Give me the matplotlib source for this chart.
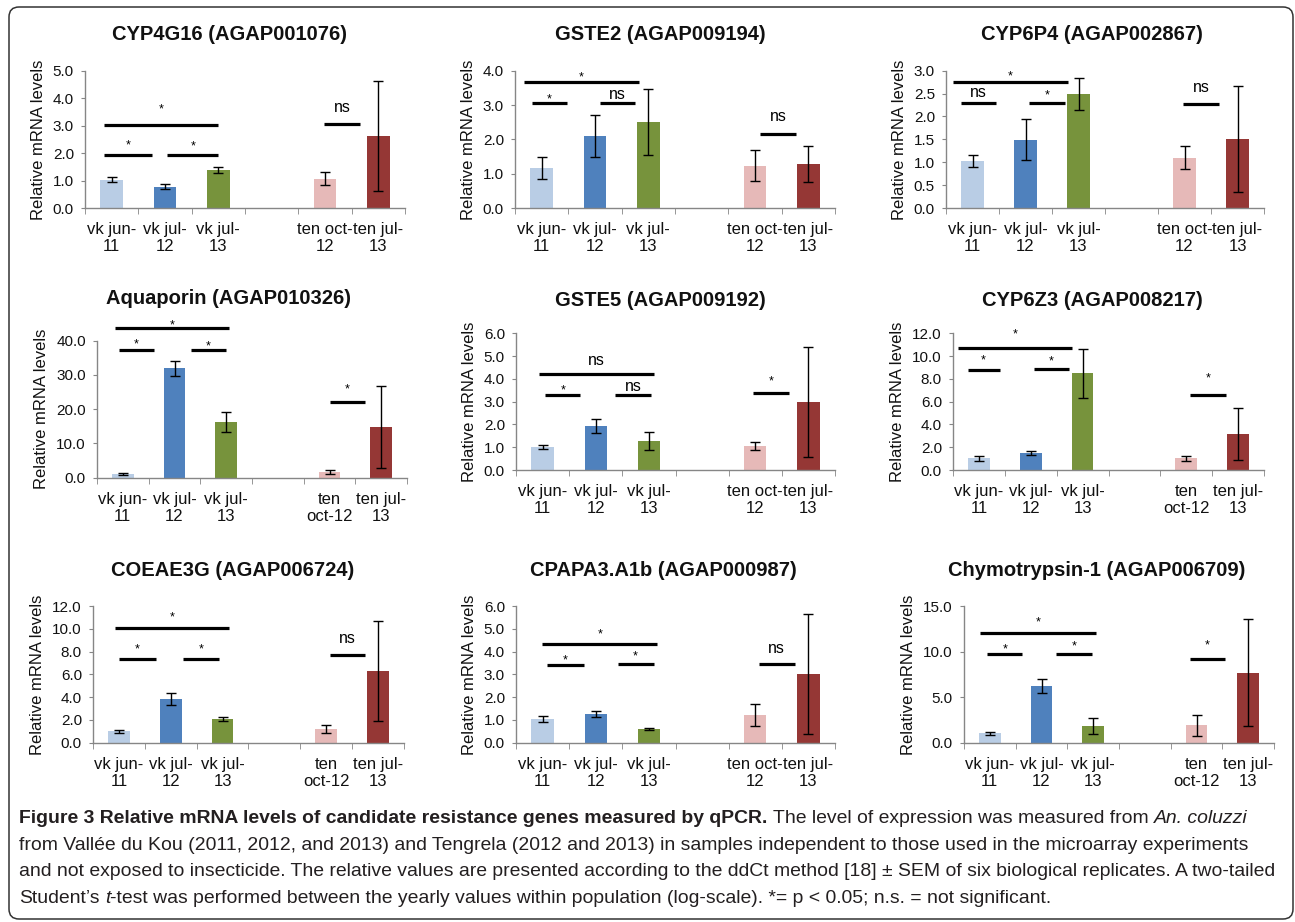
"""
Figure 3: relative mRNA levels of candidate resistance genes (qPCR)
3x3 grid of Excel-style bar charts + caption
"""
import matplotlib
matplotlib.use("Agg")
import matplotlib.pyplot as plt
import matplotlib.ticker as mticker
from matplotlib.patches import FancyBboxPatch
from matplotlib.transforms import IdentityTransform
import numpy as np

plt.rcParams["font.family"] = ["Liberation Sans", "DejaVu Sans"]

# ---- data -------------------------------------------------------------
BAR_X = [0, 1, 2, 4, 5]          # slot 3 is the empty gap
LABELS_A = ["vk jun-\n11", "vk jul-\n12", "vk jul-\n13", "", "ten oct-\n12", "ten jul-\n13"]
LABELS_B = ["vk jun-\n11", "vk jul-\n12", "vk jul-\n13", "", "ten\noct-12", "ten jul-\n13"]

titles = [
    "CYP4G16 (AGAP001076)", "GSTE2 (AGAP009194)", "CYP6P4 (AGAP002867)",
    "Aquaporin (AGAP010326)", "GSTE5 (AGAP009192)", "CYP6Z3 (AGAP008217)",
    "COEAE3G (AGAP006724)", "CPAPA3.A1b (AGAP000987)", "Chymotrypsin-1 (AGAP006709)",
]

cyp4g16 = [1.03, 0.77, 1.39, 1.07, 2.63]
cyp4g16_err = [0.10, 0.09, 0.11, 0.24, 2.00]
gste2 = [1.17, 2.10, 2.51, 1.23, 1.29]
gste2_err = [0.33, 0.60, 0.97, 0.45, 0.53]
cyp6p4 = [1.03, 1.49, 2.49, 1.10, 1.51]
cyp6p4_err = [0.13, 0.45, 0.35, 0.25, 1.15]
aquaporin = [1.07, 32.0, 16.25, 1.65, 14.8]
aquaporin_err = [0.2, 2.2, 2.9, 0.65, 12.0]
gste5 = [1.01, 1.93, 1.27, 1.05, 2.99]
gste5_err = [0.10, 0.30, 0.41, 0.17, 2.40]
cyp6z3 = [1.02, 1.49, 8.50, 1.02, 3.16]
cyp6z3_err = [0.23, 0.20, 2.15, 0.22, 2.25]
coeae3g = [1.00, 3.83, 2.08, 1.20, 6.29]
coeae3g_err = [0.13, 0.53, 0.20, 0.35, 4.40]
cpapa3 = [1.04, 1.26, 0.60, 1.21, 3.01]
cpapa3_err = [0.12, 0.12, 0.06, 0.48, 2.63]
chymo = [1.02, 6.22, 1.83, 1.94, 7.68]
chymo_err = [0.15, 0.80, 0.90, 1.15, 5.90]

y_max = [5, 4, 3, 40, 6, 12, 12, 6, 15]
y_step = [1, 1, 0.5, 10, 1, 2, 2, 1, 5]

# significance bars: (x start, x end, bar y, label y, label)
sig_cyp4g16 = [(-0.15, 2.0, 3.03, 3.75, "*"), (-0.15, 0.76, 1.94, 2.42, "*"),
               (1.04, 2.0, 1.92, 2.38, "*"), (3.99, 4.66, 3.05, 3.63, "ns")]
sig_gste2 = [(-0.34, 1.82, 3.68, 3.92, "*"), (-0.18, 0.48, 3.07, 3.29, "*"),
             (1.09, 1.75, 3.07, 3.29, "ns"), (4.1, 4.76, 2.16, 2.66, "ns")]
sig_cyp6p4 = [(-0.36, 1.8, 2.76, 2.96, "*"), (-0.22, 0.45, 2.30, 2.51, "ns"),
              (1.07, 1.74, 2.30, 2.56, "*"), (3.97, 4.65, 2.27, 2.63, "ns")]
sig_aquaporin = [(-0.16, 2.06, 43.6, 45.8, "*"), (-0.08, 0.61, 37.3, 40.0, "*"),
                 (1.31, 2.0, 37.3, 39.7, "*"), (4.0, 4.68, 22.0, 26.9, "*")]
sig_gste5 = [(-0.06, 2.1, 4.23, 4.80, "ns"), (0.05, 0.71, 3.28, 3.66, "*"),
             (1.36, 2.04, 3.31, 3.66, "ns"), (3.96, 4.64, 3.37, 4.07, "*")]
sig_cyp6z3 = [(-0.4, 1.8, 10.68, 12.23, "*"), (-0.22, 0.4, 8.75, 9.95, "*"),
              (1.06, 1.73, 8.84, 9.86, "*"), (4.08, 4.76, 6.59, 8.40, "*")]
sig_coeae3g = [(-0.08, 2.13, 10.1, 11.36, "*"), (0.01, 0.71, 7.32, 8.57, "*"),
               (1.23, 1.93, 7.32, 8.57, "*"), (4.07, 4.75, 7.7, 9.10, "ns")]
sig_cpapa3 = [(-0.01, 2.16, 4.35, 4.95, "*"), (0.08, 0.77, 3.41, 3.78, "*"),
              (1.41, 2.09, 3.44, 3.97, "*"), (4.07, 4.74, 3.44, 4.11, "ns")]
sig_chymo = [(-0.19, 2.05, 12.0, 13.65, "*"), (-0.05, 0.63, 9.73, 10.72, "*"),
             (1.28, 1.97, 9.73, 11.01, "*"), (3.87, 4.55, 9.18, 11.09, "*")]

means = [cyp4g16, gste2, cyp6p4, aquaporin, gste5, cyp6z3, coeae3g, cpapa3, chymo]
errors = [cyp4g16_err, gste2_err, cyp6p4_err, aquaporin_err, gste5_err, cyp6z3_err,
          coeae3g_err, cpapa3_err, chymo_err]
sigs = [sig_cyp4g16, sig_gste2, sig_cyp6p4, sig_aquaporin, sig_gste5, sig_cyp6z3,
        sig_coeae3g, sig_cpapa3, sig_chymo]
xlabels = [LABELS_A, LABELS_A, LABELS_A, LABELS_B, LABELS_A, LABELS_B, LABELS_B, LABELS_A, LABELS_B]

CAPTION_LINES = [
    [("Figure 3 Relative mRNA levels of candidate resistance genes measured by qPCR.", "bold", "normal"),
     (" The level of expression was measured from", "normal", "normal"),
     (" An. coluzzi", "normal", "italic")],
    [("from Vallée du Kou (2011, 2012, and 2013) and Tengrela (2012 and 2013) in samples independent "
      "to those used in the microarray experiments", "normal", "normal")],
    [("and not exposed to insecticide. The relative values are presented according to the ddCt method "
      "[18] ± SEM of six biological replicates. A two-tailed", "normal", "normal")],
    [("Student\u2019s", "normal", "normal"), (" t", "normal", "italic"),
     ("-test was performed between the yearly values within population (log-scale). *= p < 0.05; "
      "n.s. = not significant.", "normal", "normal")],
]

# ---- style / layout ---------------------------------------------------
BAR_COLORS = ["#b9cde5", "#4f81bd", "#77933c", "#e6b9b8", "#953735"]
AXIS_GRAY = "#868686"
W, H = 1295, 922

# axes boxes in pixels: left, top, right, bottom
AX_BOXES = [
    (85, 70.7, 405, 208), (515, 70.7, 835, 208), (946, 70.7, 1264, 208),
    (97, 340.7, 407, 477.7), (516, 333.3, 835, 470), (953, 333.3, 1264, 470),
    (93, 606, 404, 742.7), (516, 606, 835, 742.7), (964, 606, 1274, 742.7),
]
TITLE_POS = [
    (230, 35), (660, 35), (1092, 35),
    (229, 298), (660, 300), (1092, 300),
    (233, 571), (663, 571), (1097, 571),
]

fig = plt.figure(figsize=(W / 100, H / 100), dpi=100, facecolor="white")


def draw_panel(ax, vals, errs, ymax, ystep, sig, labels):
    ax.bar(BAR_X, vals, width=0.42, color=BAR_COLORS, linewidth=0, zorder=2)
    ax.errorbar(BAR_X, vals, yerr=errs, fmt="none", ecolor="black", elinewidth=1.0,
                capsize=3.5, capthick=1.0, zorder=3, clip_on=False)

    ax.set_xlim(-0.5, 5.5)
    ax.set_ylim(0, ymax)
    ax.set_yticks(np.arange(0, ymax + ystep / 2, ystep))
    ax.yaxis.set_major_formatter(mticker.FormatStrFormatter("%.1f"))
    ax.set_xticks(range(6))
    ax.set_xticklabels(labels, fontsize=12, linespacing=1.18)
    ax.set_xticks(np.arange(-0.5, 6, 1), minor=True)
    ax.tick_params(axis="x", which="major", length=0, pad=10, colors="#111111")
    ax.tick_params(axis="x", which="minor", length=4, color=AXIS_GRAY, direction="out")
    ax.tick_params(axis="y", length=3, color=AXIS_GRAY, pad=5, labelsize=11, labelcolor="#111111")
    ax.set_ylabel("Relative mRNA levels", fontsize=12, labelpad=5, color="#111111")

    for side in ("top", "right"):
        ax.spines[side].set_visible(False)
    for side in ("left", "bottom"):
        ax.spines[side].set_color(AXIS_GRAY)
        ax.spines[side].set_linewidth(1.0)

    # significance bars; label y is the visual centre of the glyphs
    for x0, x1, y, ylab, lab in sig:
        ax.plot([x0, x1], [y, y], color="black", linewidth=2.3,
                solid_capstyle="butt", clip_on=False, zorder=4)
        star = lab == "*"
        ax.annotate(lab, xy=((x0 + x1) / 2, ylab), xytext=(0, -5.2 if star else -3),
                    textcoords="offset points", ha="center", va="baseline",
                    fontsize=9 if star else 11.5, annotation_clip=False)


for i in range(9):
    l, t, r, b = AX_BOXES[i]
    ax = fig.add_axes([l / W, 1 - b / H, (r - l) / W, (b - t) / H])
    draw_panel(ax, means[i], errors[i], y_max[i], y_step[i], sigs[i], xlabels[i])
    tx, ty = TITLE_POS[i]
    fig.text(tx / W, 1 - ty / H, titles[i], ha="center", va="center",
             fontsize=14.5, fontweight="bold", color="#111111")

# ---- caption ----------------------------------------------------------
CAP_FONT = ["Liberation Sans Narrow", "Liberation Sans", "DejaVu Sans"]
CAP_COLOR = "#231f20"
renderer = fig.canvas.get_renderer()


def text_width(s, size, weight, style):
    t = fig.text(0, 0, s, fontsize=size, fontweight=weight, fontstyle=style, family=CAP_FONT)
    w = t.get_window_extent(renderer).width
    t.remove()
    return w


def line_width(runs, size):
    total = 0
    for s, weight, style in runs:
        if s.startswith(" "):
            total += text_width("a a", size, weight, style) - text_width("aa", size, weight, style)
        total += text_width(s.strip(), size, weight, style)
    return total


ref = 10.0
cap_size = min(14.0, ref * 1255 / line_width(CAPTION_LINES[2], ref))

cap_x0 = 19
cap_y = [818, 845, 871, 898]
for runs, y in zip(CAPTION_LINES, cap_y):
    x = cap_x0
    for s, weight, style in runs:
        if s.startswith(" "):
            x += text_width("a a", cap_size, weight, style) - text_width("aa", cap_size, weight, style)
        txt = s.strip()
        fig.text(x / W, 1 - y / H, txt, fontsize=cap_size, fontweight=weight, fontstyle=style,
                 family=CAP_FONT, color=CAP_COLOR, ha="left", va="center")
        x += text_width(txt, cap_size, weight, style)

# rounded frame round the whole figure
frame = FancyBboxPatch((9, 3), 1284, 912, boxstyle="round,pad=0,rounding_size=10",
                       transform=IdentityTransform(), facecolor="none",
                       edgecolor="#333333", linewidth=1.1)
fig.add_artist(frame)

fig.savefig("out.png", dpi=100, facecolor="white")
plt.close(fig)
